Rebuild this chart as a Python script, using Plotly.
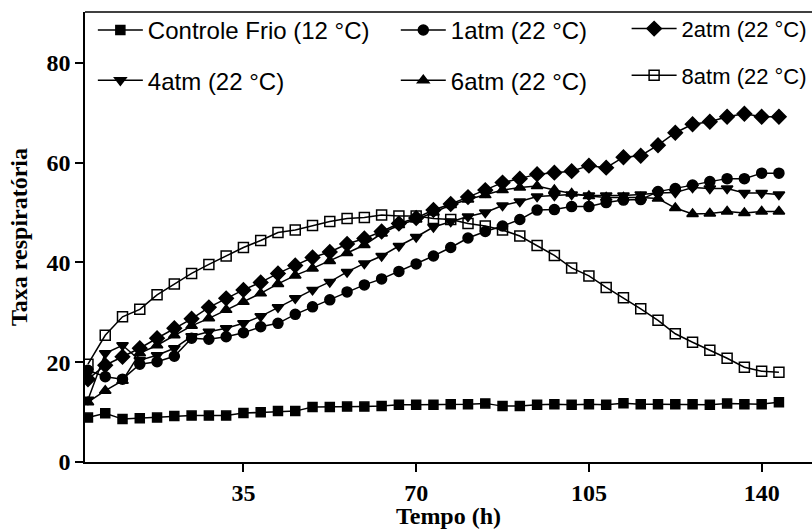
import plotly.graph_objects as go

# Time (h)
tempo = [3.5 * k for k in range(1, 42)]

controle_frio = [8.9, 9.75, 8.6, 8.75, 8.9, 9.2, 9.3, 9.3, 9.3, 9.8,
                 9.95, 10.2, 10.2, 11.0, 11.0, 11.1, 11.1, 11.2, 11.5, 11.5,
                 11.5, 11.6, 11.6, 11.75, 11.2, 11.2, 11.5, 11.6, 11.5, 11.6,
                 11.5, 11.8, 11.6, 11.6, 11.6, 11.6, 11.5, 11.75, 11.6, 11.6,
                 12.0]
atm1 = [18.4, 17.1, 16.6, 19.6, 20.1, 21.2, 24.8, 24.6, 25.1, 25.9,
        27.1, 27.8, 29.6, 31.1, 32.5, 34.1, 35.5, 36.7, 38.2, 39.7,
        41.3, 43.0, 44.9, 46.2, 47.3, 48.6, 50.5, 50.6, 51.2, 51.2,
        52.0, 52.5, 52.6, 54.2, 54.8, 55.5, 56.2, 56.8, 56.8, 57.9,
        57.9]
atm2 = [16.6, 19.4, 21.1, 22.8, 24.8, 26.8, 28.7, 31.0, 32.8, 34.5,
        36.0, 37.8, 39.4, 41.0, 42.1, 43.7, 44.8, 46.2, 47.8, 48.9,
        50.5, 51.7, 53.1, 54.5, 56.0, 56.8, 57.7, 58.0, 58.3, 59.4,
        59.0, 61.1, 61.4, 63.5, 66.0, 67.7, 68.2, 69.2, 69.8, 69.2,
        69.2]
atm4 = [12.5, 21.8, 23.4, 20.4, 21.4, 22.8, 25.2, 26.1, 26.8, 27.8,
        29.2, 31.0, 32.8, 34.5, 36.1, 38.1, 39.8, 41.3, 43.3, 45.1,
        47.1, 48.2, 49.2, 50.0, 51.4, 52.2, 53.2, 53.4, 53.6, 53.4,
        53.4, 53.4, 53.6, 53.9, 54.0, 55.0, 54.8, 54.8, 53.9, 53.9,
        53.6]
atm6 = [12.0, 14.3, 16.3, 21.8, 23.4, 25.4, 27.3, 28.8, 30.5, 32.1,
        33.8, 35.7, 37.4, 38.8, 40.3, 41.9, 43.5, 45.8, 47.5, 48.6,
        50.0, 51.5, 52.6, 53.5, 54.5, 55.0, 55.3, 54.5, 53.8, 53.3,
        53.0, 53.0, 53.0, 52.8, 50.9, 49.7, 49.8, 50.2, 49.9, 50.2,
        50.2]
atm8 = [19.6, 25.4, 29.1, 30.6, 33.5, 35.7, 37.8, 39.6, 41.3, 43.0,
        44.4, 46.0, 46.5, 47.4, 48.2, 48.8, 49.0, 49.5, 49.3, 49.3,
        48.8, 48.6, 47.8, 47.3, 46.5, 45.3, 43.4, 41.4, 38.9, 37.3,
        35.0, 32.9, 30.7, 28.4, 25.7, 24.0, 22.4, 20.8, 19.0, 18.2,
        18.0]

x_ticks = [35, 70, 105, 140]
y_ticks = [0, 20, 40, 60, 80]

series = [
    ("Controle Frio (12 °C)", controle_frio, "square", 9, "legend", "g1"),
    ("1atm (22 °C)", atm1, "circle", 10, "legend2", "g2"),
    ("2atm (22 °C)", atm2, "diamond", 11, "legend3", "g3"),
    ("4atm (22 °C)", atm4, "triangle-down", 10, "legend", "g4"),
    ("6atm (22 °C)", atm6, "triangle-up", 10, "legend2", "g5"),
    ("8atm (22 °C)", atm8, "square-open", 10, "legend3", "g6"),
]

fig = go.Figure()
for name, vals, sym, size, leg, grp in series:
    fig.add_trace(go.Scatter(
        x=tempo, y=vals, name=name, mode="lines+markers",
        line=dict(color="black", width=1.5),
        marker=dict(symbol=sym, size=size, color="black",
                    line=dict(color="black", width=1.5)),
        legend=leg, legendgroup=grp,
    ))

def leg_font(sz):
    return dict(family="Liberation Sans, Arial, sans-serif", size=sz, color="black")

common_leg = dict(bgcolor="rgba(0,0,0,0)", borderwidth=0,
                  xanchor="left", yanchor="top", itemwidth=45,
                  traceorder="grouped")

serif_bold = dict(family="Liberation Serif, Times New Roman, serif", size=24,
                  color="black", weight="bold")

fig.update_layout(
    width=812, height=529,
    margin=dict(l=85, r=0, t=12, b=67, autoexpand=False),
    plot_bgcolor="white", paper_bgcolor="white",
    showlegend=True,
    legend=dict(x=0.0108, y=1.009, font=leg_font(24), tracegroupgap=16, **common_leg),
    legend2=dict(x=0.4275, y=1.009, font=leg_font(24), tracegroupgap=16, **common_leg),
    legend3=dict(x=0.745, y=1.0093, font=leg_font(22), tracegroupgap=15, **common_leg),
    xaxis=dict(range=[2.9, 150.2], tickvals=x_ticks, ticktext=[str(t) for t in x_ticks],
               showgrid=False, zeroline=False, showline=True, linecolor="black",
               linewidth=1.5, ticks="outside", ticklen=8, tickwidth=1.5,
               tickcolor="black", tickfont=serif_bold, automargin=False,
               title=dict(text="Tempo (h)", font=serif_bold, standoff=6)),
    yaxis=dict(range=[0, 90.2], tickvals=y_ticks, ticktext=[str(t) for t in y_ticks],
               showgrid=False, zeroline=False, showline=True, linecolor="black",
               linewidth=1.5, ticks="outside", ticklen=8, tickwidth=1.5,
               tickcolor="black", tickfont=serif_bold, automargin=False,
               title=dict(text="Taxa respiratória", font=serif_bold, standoff=12)),
    shapes=[dict(type="line", xref="paper", yref="paper", x0=0, x1=1, y0=1, y1=1,
                 line=dict(color="black", width=1.5))],
)

fig.write_html("out.html",
               config={"displayModeBar": False},
               post_script="document.body.style.margin='0';document.body.style.overflow='hidden';")
